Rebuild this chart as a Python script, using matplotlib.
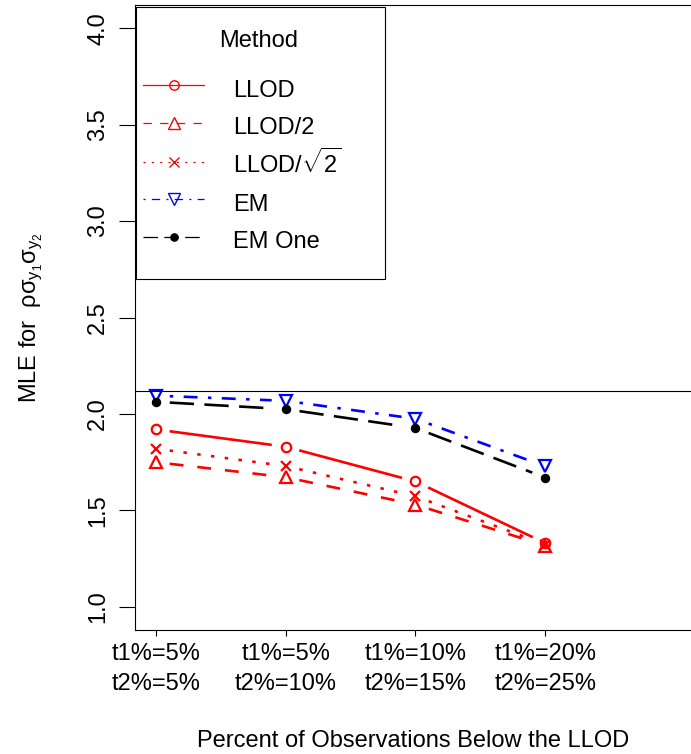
import matplotlib
matplotlib.use('Agg')
import matplotlib.pyplot as plt
from matplotlib.lines import Line2D
from matplotlib.patches import Rectangle
import numpy as np

plt.rcParams['font.family'] = ['Liberation Sans', 'DejaVu Sans']
plt.rcParams['mathtext.fontset'] = 'custom'
plt.rcParams['mathtext.rm'] = 'Liberation Sans'
plt.rcParams['mathtext.it'] = 'Liberation Sans'
plt.rcParams['lines.scale_dashes'] = False

# scenarios (percent censored for each variable)
scenario_labels = ['t1%=5%\nt2%=5%', 't1%=5%\nt2%=10%',
                   't1%=10%\nt2%=15%', 't1%=20%\nt2%=25%']
scenario_x = [1, 2, 3, 4]

method_names = ['LLOD', 'LLOD/2', r'LLOD/$\sqrt{2}$', 'EM', 'EM One']
llod = [1.92, 1.83, 1.65, 1.33]
llod_half = [1.75, 1.672, 1.53, 1.317]
llod_sqrt2 = [1.82, 1.73, 1.573, 1.323]
em = [2.095, 2.068, 1.975, 1.728]
em_one = [2.063, 2.025, 1.927, 1.67]

true_value = 2.12

# R-like line types, u = one dash unit in points
def lty(kind, u):
    return {
        'solid': '-',
        'dashed': (0, (4 * u, 4 * u)),
        'dotted': (0, (1 * u, 3 * u)),
        'dotdash': (0, (1 * u, 3 * u, 4 * u, 3 * u)),
        'longdash': (0, (7 * u, 3 * u)),
    }[kind]


styles = [
    dict(color='#FF0000', kind='solid', marker='o', ms=6.8, fill=False),
    dict(color='#FF0000', kind='dashed', marker='^', ms=8.0, fill=False),
    dict(color='#FF0000', kind='dotted', marker='x', ms=6.8, fill=False),
    dict(color='#0000FF', kind='dotdash', marker='v', ms=8.0, fill=False),
    dict(color='#000000', kind='longdash', marker='o', ms=5.2, fill=True),
]


def draw_type_b(ax, xs, ys, st, gap_px=14):
    # lines broken around the points, one segment at a time
    pts = ax.transData.transform(np.column_stack([xs, ys]))
    inv = ax.transData.inverted()
    for i in range(len(pts) - 1):
        p0, p1 = pts[i], pts[i + 1]
        d = p1 - p0
        L = np.hypot(*d)
        a = p0 + d * gap_px / L
        b = p1 - d * gap_px / L
        seg = inv.transform(np.vstack([a, b]))
        ax.plot(seg[:, 0], seg[:, 1], color=st['color'],
                linestyle=lty(st['kind'], 2.5), lw=1.9, solid_capstyle='butt')
    fc = st['color'] if st['fill'] else 'none'
    ax.plot(xs, ys, linestyle='none', marker=st['marker'], ms=st['ms'],
            mec=st['color'], mfc=fc, mew=1.6)


def main():
    fig = plt.figure(figsize=(6.91, 7.54), dpi=100)
    ax = fig.add_axes([135 / 691, 124 / 754, 561 / 691, 625 / 754])
    ax.set_xlim(0.84, 5.16)
    ax.set_ylim(0.88, 4.12)

    series = [llod, llod_half, llod_sqrt2, em, em_one]
    for ys, st in zip(series, styles):
        draw_type_b(ax, scenario_x, ys, st)

    ax.axhline(true_value, color='black', lw=0.8)

    for sp in ax.spines.values():
        sp.set_linewidth(0.8)

    ax.set_yticks([1.0, 1.5, 2.0, 2.5, 3.0, 3.5, 4.0])
    ax.set_yticklabels(['1.0', '1.5', '2.0', '2.5', '3.0', '3.5', '4.0'],
                       rotation=90, va='center')
    ax.tick_params(axis='y', length=11.5, width=0.8, pad=7, labelsize=17)
    ax.set_xticks(scenario_x)
    ax.set_xticklabels(scenario_labels, linespacing=1.5)
    ax.tick_params(axis='x', length=4.5, width=0.8, pad=4.5, labelsize=17)

    ax.set_xlabel('Percent of Observations Below the LLOD', fontsize=17, va='center')
    ax.xaxis.set_label_coords(0.495, -0.177)
    ax.set_ylabel(r'MLE for  $\rho\sigma_{y_1}\sigma_{y_2}$', fontsize=17, va='center')
    ax.yaxis.set_label_coords(-0.184, 0.5)

    handles = []
    for st in styles:
        fc = st['color'] if st['fill'] else 'none'
        handles.append(Line2D([], [], color=st['color'], lw=0.9,
                              linestyle=lty(st['kind'], 1.5),
                              marker=st['marker'], ms=st['ms'] * 1.0,
                              mec=st['color'], mfc=fc, mew=1.0))

    # legend box drawn separately so its padding can differ per side
    ax.add_patch(Rectangle((1 / 561, 351 / 625), 249 / 561, 272 / 625,
                           transform=ax.transAxes, facecolor='white',
                           edgecolor='black', lw=0.8, zorder=4))
    leg = ax.legend(handles, method_names, title='Method', loc='upper left',
                    bbox_to_anchor=(8 / 561, 1 - 25 / 625, 232 / 561, 0.0),
                    mode='expand', borderaxespad=0, borderpad=0,
                    fontsize=17, title_fontsize=17,
                    handlelength=2.6, handletextpad=1.2, handleheight=1.6,
                    labelspacing=0.3, frameon=False)
    leg.set_zorder(5)
    leg._legend_box.sep = 15.8

    fig.savefig('out.png', dpi=100)


if __name__ == '__main__':
    main()
